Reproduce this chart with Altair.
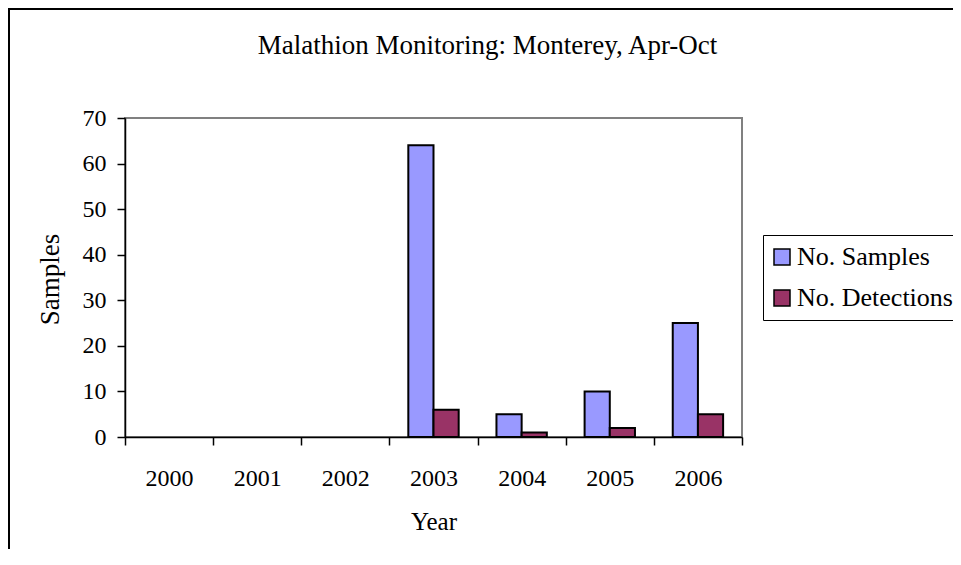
import altair as alt
import pandas as pd

years = ["2000", "2001", "2002", "2003", "2004", "2005", "2006"]
samples = [0, 0, 0, 64, 5, 10, 25]
detections = [0, 0, 0, 6, 1, 2, 5]
series = ["No. Samples", "No. Detections"]
colors = ["#9999FF", "#993366"]
y_ticks = [0, 10, 20, 30, 40, 50, 60, 70]

rows = []
for yr, s, d in zip(years, samples, detections):
    rows.append({"Year": yr, "Series": series[0], "Value": s})
    rows.append({"Year": yr, "Series": series[1], "Value": d})
df = pd.DataFrame(rows)

FONT = "Liberation Serif"
W, H = 617, 319
PAD = {"left": 117, "top": 110, "right": 211, "bottom": 112}

bars = alt.Chart(df).transform_filter("datum.Value > 0").mark_bar(
    stroke="black", strokeWidth=2, opacity=1
).encode(
    x=alt.X(
        "Year:N", sort=years,
        scale=alt.Scale(domain=years, paddingInner=0, paddingOuter=0),
        axis=alt.Axis(
            title="Year", labelAngle=0, tickBand="extent",
            labelBaseline="alphabetic", labelPadding=40,
            titleFontSize=25,
            titleX=W / 2, titleY=92, titleBaseline="alphabetic", titleAlign="center",
        ),
    ),
    xOffset=alt.XOffset(
        "Series:N", sort=series,
        scale=alt.Scale(domain=series, paddingInner=0, paddingOuter=0.75),
    ),
    y=alt.Y(
        "Value:Q",
        scale=alt.Scale(domain=[0, 70], nice=False),
        axis=alt.Axis(
            title="Samples", values=y_ticks, grid=False,
            labelPadding=11, labelBaseline="middle",
            titleFontSize=27,
            titleX=-67, titleY=161, titleBaseline="alphabetic", titleAlign="center",
        ),
    ),
    color=alt.Color(
        "Series:N", sort=series,
        scale=alt.Scale(domain=series, range=colors),
        legend=alt.Legend(
            title=None, orient="none", legendX=638, legendY=117, direction="vertical",
            strokeColor="black", fillColor="white", padding=9, rowPadding=15,
            symbolType="square", symbolSize=256, symbolStrokeColor="black",
            symbolStrokeWidth=1.5, symbolOpacity=1, symbolOffset=-3,
            labelFont=FONT, labelFontSize=26, labelColor="black", labelOffset=2,
            labelLimit=400,
        ),
    ),
)

frame_src = alt.Data(values=[{"k": 1}])
frame_left = alt.Chart(frame_src).mark_rule(color="black", strokeWidth=2).encode(
    x=alt.value(-116), y=alt.value(-110), y2=alt.value(H + PAD["bottom"])
)
frame_top = alt.Chart(frame_src).mark_rule(color="black", strokeWidth=2).encode(
    y=alt.value(-109), x=alt.value(-117), x2=alt.value(W + PAD["right"])
)

chart = alt.layer(frame_left, frame_top, bars).properties(
    width=W,
    height=H,
    padding=PAD,
    autosize=alt.AutoSizeParams(type="none"),
    title=alt.TitleParams(
        text="Malathion Monitoring: Monterey, Apr-Oct",
        font=FONT, fontSize=27, fontWeight="normal", color="black",
        anchor="middle", frame="group", baseline="alphabetic", offset=-74, dx=54,
    ),
    background="white",
).configure_view(
    stroke="#808080", strokeWidth=2
).configure_axis(
    domainColor="black", tickColor="black", labelColor="black", titleColor="black",
    labelFont=FONT, titleFont=FONT, labelFontSize=24, titleFontSize=24,
    titleFontWeight="normal", tickSize=8, domainWidth=1.5, tickWidth=1.5,
)

chart.save("out.html", embed_options={"renderer": "svg", "actions": False})
